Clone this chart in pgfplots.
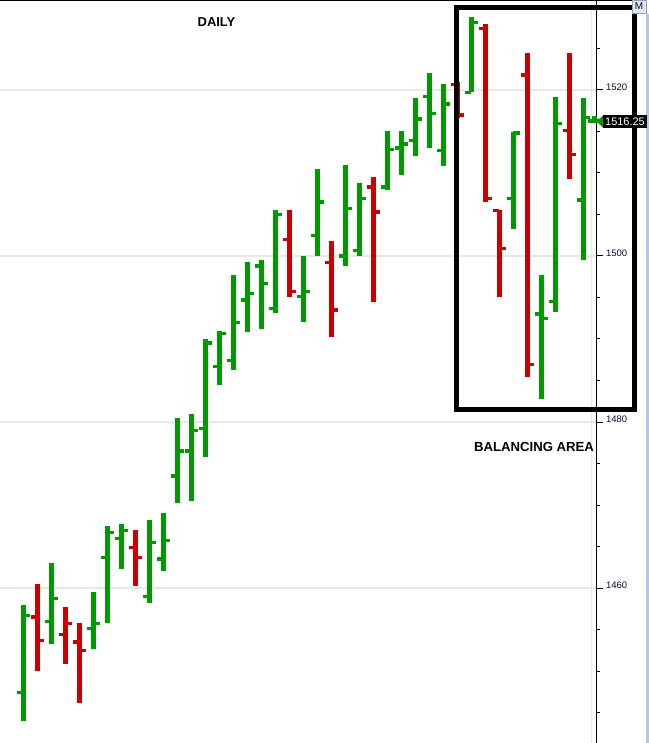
\documentclass[border=0pt]{standalone}
\usepackage{pgfplots}
\usepackage{pgfplotstable}
\pgfplotsset{compat=1.18}
\usepackage{fontspec}
\setmainfont{Liberation Sans}
\definecolor{cgreen}{RGB}{0,153,0}
\definecolor{cred}{RGB}{204,0,0}
\definecolor{cgrid}{RGB}{232,232,232}
\definecolor{clab}{RGB}{10,10,50}

\pgfplotstableread{
x o h l c
0 1447.4 1458.0 1444.0 1456.7
2 1456.0 1463.0 1453.3 1458.75
5 1455.1 1459.5 1452.6 1455.7
6 1463.7 1467.5 1455.8 1466.7
7 1466.0 1467.7 1462.3 1466.95
9 1459.0 1468.2 1458.2 1465.5
10 1463.5 1469.0 1462.1 1465.75
11 1473.5 1480.5 1470.3 1476.5
12 1476.5 1481.0 1470.5 1479.0
13 1479.2 1490.0 1475.8 1489.5
14 1486.7 1491.0 1484.5 1490.7
15 1487.4 1497.7 1486.3 1492.0
16 1494.7 1499.3 1490.8 1495.5
17 1498.8 1499.5 1491.25 1496.7
18 1493.7 1505.5 1493.1 1505.0
20 1495.1 1500.0 1492.1 1495.75
21 1502.5 1510.5 1500.0 1506.5
23 1500.0 1511.0 1498.8 1505.75
24 1500.7 1508.8 1500.0 1506.95
26 1508.3 1515.1 1508.0 1512.8
27 1513.0 1515.1 1509.8 1513.5
28 1513.9 1519.0 1512.1 1516.5
29 1519.25 1522.05 1513.05 1517.2
30 1512.7 1520.7 1510.8 1518.3
32 1519.7 1528.8 1519.7 1528.1
35 1506.95 1514.98 1503.3 1514.8
37 1493.0 1497.7 1482.8 1492.5
38 1494.5 1519.2 1493.3 1516.0
40 1506.75 1519.0 1499.5 1516.7
40.8 1516.25 1516.9 1516.0 1516.25
}\greenbars

\pgfplotstableread{
x o h l c
1 1456.5 1460.5 1450.0 1453.7
3 1454.4 1457.7 1450.8 1455.7
4 1453.5 1455.8 1446.1 1452.5
8 1464.9 1467.0 1460.3 1463.7
19 1502.0 1505.5 1495.1 1495.75
22 1499.2 1501.8 1490.3 1493.5
25 1508.3 1509.5 1494.5 1505.3
31 1520.7 1521.0 1516.6 1517.0
33 1527.4 1528.0 1506.5 1506.95
34 1505.5 1505.5 1495.1 1500.9
36 1521.8 1524.5 1485.4 1486.95
39 1515.1 1524.5 1509.3 1512.25
}\redbars

\begin{document}
\begin{tikzpicture}
\useasboundingbox (0,0) rectangle (649bp,743bp);
\begin{axis}[
  at={(0,0)}, anchor=south west,
  scale only axis, width=596bp, height=743bp,
  xmin=-1.664, xmax=40.907,
  ymin=1441.33, ymax=1530.84,
  axis x line=none,
  axis y line=right,
  axis line style={black, line width=1bp, -},
  ytick distance=20,
  minor tick num=3,
  tick align=outside,
  major tick length=7bp,
  minor tick length=4bp,
  every tick/.style={black, line width=1bp},
  ymajorgrids,
  major grid style={cgrid, line width=1.1bp},
  /pgf/number format/1000 sep={},
  /pgf/number format/assume math mode=true,
  yticklabel style={font=\fontsize{9.5}{10}\selectfont, text=clab, inner sep=0pt, xshift=3bp, yshift=2.5bp},
  clip=false,
  ohlc/.style={draw=none, mark=none, forget plot},
]
% light vertical separator
\draw[cgrid, line width=1.5bp] (axis cs:40.58,1441.33) -- (axis cs:40.58,1530.84);

% green bars
\addplot[ohlc, error bars/.cd, y dir=plus, y explicit, error mark=none,
  error bar style={line width=4.7bp, draw=cgreen, solid}]
  table[x=x, y=l, y error expr=\thisrow{h}-\thisrow{l}] {\greenbars};
\addplot[ohlc, error bars/.cd, x dir=minus, x fixed=0.45, error mark=none,
  error bar style={line width=3.3bp, draw=cgreen, solid}]
  table[x=x, y=o] {\greenbars};
\addplot[ohlc, error bars/.cd, x dir=plus, x fixed=0.45, error mark=none,
  error bar style={line width=3.3bp, draw=cgreen, solid}]
  table[x=x, y=c] {\greenbars};

% red bars
\addplot[ohlc, error bars/.cd, y dir=plus, y explicit, error mark=none,
  error bar style={line width=4.7bp, draw=cred, solid}]
  table[x=x, y=l, y error expr=\thisrow{h}-\thisrow{l}] {\redbars};
\addplot[ohlc, error bars/.cd, x dir=minus, x fixed=0.45, error mark=none,
  error bar style={line width=3.3bp, draw=cred, solid}]
  table[x=x, y=o] {\redbars};
\addplot[ohlc, error bars/.cd, x dir=plus, x fixed=0.45, error mark=none,
  error bar style={line width=3.3bp, draw=cred, solid}]
  table[x=x, y=c] {\redbars};

% balancing box
\draw[black, line width=5bp] (axis cs:30.94,1529.94) rectangle (axis cs:43.66,1481.5);
\end{axis}

% top line
\draw[black, line width=1bp] (0,742.5bp) -- (632bp,742.5bp);
% right light-blue strip
\draw[color={rgb,255:red,180;green,200;blue,228}, line width=2.5bp] (647.5bp,0) -- (647.5bp,729bp);
% M box
\filldraw[fill={rgb,255:red,226;green,230;blue,240}, draw={rgb,255:red,150;green,160;blue,180}, line width=0.8bp] (632bp,730bp) rectangle (646bp,743bp);
\node[font=\fontsize{10}{10}\selectfont, text=clab, inner sep=0pt] at (639bp,736.5bp) {M};

% price marker
\fill[cgreen] (596.5bp,621.5bp) -- (603.5bp,628bp) -- (603.5bp,615bp) -- cycle;
\fill[black] (603bp,615bp) rectangle (647bp,628bp);
\node[font=\fontsize{11}{11}\selectfont, text=white, inner sep=0pt] at (625bp,621.5bp) {1516.25};

% texts
\node[font=\bfseries\fontsize{13}{13}\selectfont, inner sep=0pt] at (216.5bp,721bp) {DAILY};
\node[font=\bfseries\fontsize{13.2}{13}\selectfont, inner sep=0pt] at (534bp,296bp) {BALANCING AREA};
\end{tikzpicture}
\end{document}
